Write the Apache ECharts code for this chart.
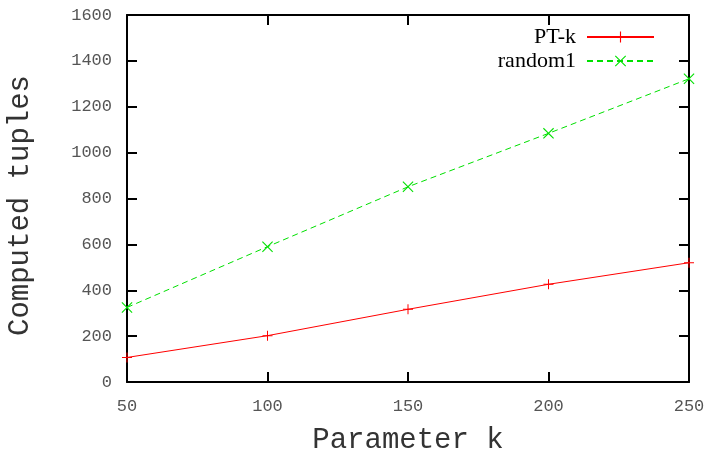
<!DOCTYPE html>
<html>
<head>
<meta charset="utf-8">
<script src="https://cdn.jsdelivr.net/npm/echarts@6/dist/echarts.min.js"></script>
<style>html,body{margin:0;padding:0;background:#fff}#c{width:712px;height:455px}</style>
</head>
<body>
<div id="c"></div>
<script>
var kValues = [50, 100, 150, 200, 250];
var ptkValues = [107, 202, 317, 426, 520];
var random1Values = [325, 590, 851, 1084, 1322];
var seriesNames = ['PT-k', 'random1'];
var xTitle = 'Parameter k';
var yTitle = 'Computed tuples';

var plusPath = 'path://M4.5,0 H5.5 V4.5 H10 V5.5 H5.5 V10 H4.5 V5.5 H0 V4.5 H4.5 Z';
var crossPath = 'path://M0,0.7 L0.7,0 L5,4.3 L9.3,0 L10,0.7 L5.7,5 L10,9.3 L9.3,10 L5,5.7 L0.7,10 L0,9.3 L4.3,5 Z';

function pairs(xs, ys) { return xs.map(function (x, i) { return [x, ys[i]]; }); }
function plain(v) { return String(v); }

var mono = 'Liberation Mono';
var axisLine = { show: true, onZero: false, lineStyle: { color: '#000', width: 2 } };
var tickIn = { show: true, inside: true, length: 10, lineStyle: { color: '#000', width: 2 } };

var chart = echarts.init(document.getElementById('c'), null, { renderer: 'canvas' });
chart.setOption({
  animation: false,
  backgroundColor: '#fff',
  grid: { left: 127, right: 23, top: 15, bottom: 73, containLabel: false, outerBoundsMode: 'none' },
  legend: {
    orient: 'vertical', right: 52, top: 21, align: 'right',
    itemWidth: 67, itemHeight: 14, itemGap: 2,
    textStyle: { fontFamily: 'Liberation Serif', fontSize: 22, color: '#000', padding: [0, 6, 0, 0] },
    data: seriesNames
  },
  xAxis: [{
    type: 'value', min: 50, max: 250, interval: 50, position: 'bottom',
    name: xTitle, nameLocation: 'middle', nameGap: 44,
    nameTextStyle: { fontFamily: mono, fontSize: 29, color: '#333' },
    axisLine: axisLine, axisTick: tickIn, splitLine: { show: false },
    axisLabel: { fontFamily: mono, fontSize: 17, color: '#555', margin: 16, formatter: plain }
  }, {
    type: 'value', min: 50, max: 250, interval: 50, position: 'top',
    axisLine: axisLine, axisTick: tickIn, splitLine: { show: false },
    axisLabel: { show: false }
  }],
  yAxis: [{
    type: 'value', min: 0, max: 1600, interval: 200, position: 'left',
    name: yTitle, nameLocation: 'middle', nameGap: 92,
    nameTextStyle: { fontFamily: mono, fontSize: 29, color: '#333', padding: [0, 14, 0, 0] },
    axisLine: axisLine, axisTick: tickIn, splitLine: { show: false },
    axisLabel: { fontFamily: mono, fontSize: 17, color: '#555', margin: 15, formatter: plain }
  }, {
    type: 'value', min: 0, max: 1600, interval: 200, position: 'right',
    axisLine: axisLine, axisTick: tickIn, splitLine: { show: false },
    axisLabel: { show: false }
  }],
  series: [{
    name: seriesNames[0], type: 'line', data: pairs(kValues, ptkValues),
    symbol: plusPath, symbolSize: 10, showAllSymbol: true,
    lineStyle: { color: '#ff0000', width: 1 },
    itemStyle: { color: '#ff0000' }
  }, {
    name: seriesNames[1], type: 'line', data: pairs(kValues, random1Values),
    symbol: crossPath, symbolSize: 11, showAllSymbol: true,
    lineStyle: { color: '#00e000', width: 1, type: [6, 4] },
    itemStyle: { color: '#00e000' }
  }]
});
</script>
</body>
</html>
